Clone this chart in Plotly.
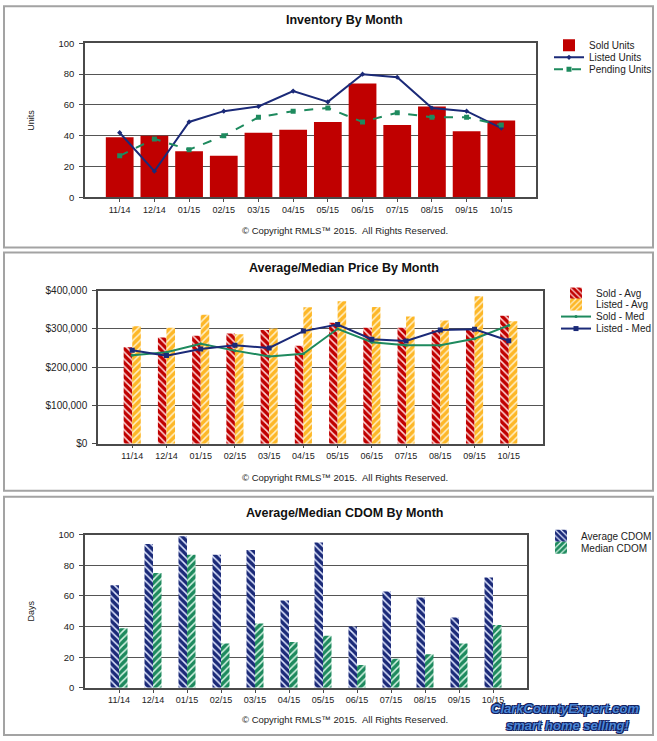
import plotly.graph_objects as go

W, H = 657, 741

months = ["11/14", "12/14", "01/15", "02/15", "03/15", "04/15",
          "05/15", "06/15", "07/15", "08/15", "09/15", "10/15"]

# Panel 1: Inventory By Month
sold_units = [39, 40, 30, 27, 42, 44, 49, 74, 47, 59, 43, 50]
listed_units = [42, 17, 49, 56, 59, 69, 62, 80, 78, 58, 56, 45]
pending_units = [27, 38, 31, 40, 52, 56, 58, 49, 55, 52, 52, 47]

# Panel 2: Average/Median Price By Month
sold_avg = [252000, 277000, 282000, 288000, 297000, 256000,
            316000, 303000, 303000, 296000, 298000, 334000]
listed_avg = [307000, 303000, 337000, 286000, 301000, 356000,
              372000, 357000, 332000, 322000, 385000, 320000]
sold_med = [231000, 239000, 261000, 243000, 228000, 235000,
            300000, 265000, 257000, 257000, 274000, 309000]
listed_med = [244000, 230000, 247000, 257000, 250000, 294000,
              311000, 273000, 268000, 297000, 299000, 269000]

# Panel 3: Average/Median CDOM By Month
avg_cdom = [67, 94, 99, 87, 90, 57, 95, 40, 63, 59, 46, 72]
med_cdom = [39, 75, 87, 29, 42, 30, 34, 15, 19, 22, 29, 41]

RED = "#C00000"
NAVY = "#1B2A78"
GREEN = "#1E8A5E"
GOLD = "#FDB727"
AXC = "#4a4a4a"
FONT = "Liberation Sans, Arial, sans-serif"

# observed vertical mapping of the viewer: rendered = 5.7 + 0.983 * planned
VOFF, VSCALE = 5.7, 0.983


def px(x):
    return x / W


def py(y):
    yp = (y - VOFF) / VSCALE
    return min(max(1 - yp / H, 0.0), 1.0)


fig = go.Figure()

# ---------- Panel 1 ----------
fig.add_trace(go.Bar(x=months, y=sold_units, name="Sold Units", marker_color=RED,
                     marker_line_width=0, width=0.8, offset=-0.4,
                     xaxis="x", yaxis="y", legend="legend"))
fig.add_trace(go.Scatter(x=months, y=listed_units, name="Listed Units", mode="lines+markers",
                         line=dict(color=NAVY, width=2), marker=dict(size=4, color=NAVY, symbol="diamond"),
                         xaxis="x", yaxis="y", legend="legend2"))
fig.add_trace(go.Scatter(x=months, y=pending_units, name="Pending Units", mode="lines+markers",
                         line=dict(color=GREEN, width=2, dash="dash"),
                         marker=dict(size=5, color=GREEN, symbol="square"),
                         xaxis="x", yaxis="y", legend="legend3"))

# ---------- Panel 2 ----------
fig.add_trace(go.Bar(x=months, y=sold_avg, name="Sold - Avg",
                     marker=dict(color=RED, line_width=0,
                                 pattern=dict(shape="\\", fgcolor="#ffd6d6", bgcolor=RED,
                                              size=5, solidity=0.3, fillmode="replace")),
                     width=0.25, offset=-0.25, xaxis="x2", yaxis="y2", legend="legend4"))
fig.add_trace(go.Bar(x=months, y=listed_avg, name="Listed - Avg",
                     marker=dict(color=GOLD, line_width=0,
                                 pattern=dict(shape="/", fgcolor="#fff0c8", bgcolor=GOLD,
                                              size=5, solidity=0.3, fillmode="replace")),
                     width=0.25, offset=0, xaxis="x2", yaxis="y2", legend="legend5"))
fig.add_trace(go.Scatter(x=months, y=sold_med, name="Sold - Med", mode="lines+markers",
                         line=dict(color=GREEN, width=2), marker=dict(size=3, color=GREEN),
                         xaxis="x2", yaxis="y2", legend="legend6"))
fig.add_trace(go.Scatter(x=months, y=listed_med, name="Listed - Med", mode="lines+markers",
                         line=dict(color=NAVY, width=2), marker=dict(size=5, color=NAVY, symbol="square"),
                         xaxis="x2", yaxis="y2", legend="legend7"))

# ---------- Panel 3 ----------
fig.add_trace(go.Bar(x=months, y=avg_cdom, name="Average CDOM",
                     marker=dict(color=NAVY, line_width=0,
                                 pattern=dict(shape="\\", fgcolor="#dfe6ff", bgcolor=NAVY,
                                              size=5, solidity=0.3, fillmode="replace")),
                     width=0.25, offset=-0.25, xaxis="x3", yaxis="y3", legend="legend8"))
fig.add_trace(go.Bar(x=months, y=med_cdom, name="Median CDOM",
                     marker=dict(color=GREEN, line_width=0,
                                 pattern=dict(shape="/", fgcolor="#d8f5e6", bgcolor=GREEN,
                                              size=5, solidity=0.3, fillmode="replace")),
                     width=0.25, offset=0, xaxis="x3", yaxis="y3", legend="legend9"))

xcommon = dict(type="category", range=[-1, 12], showline=True, linecolor=AXC, linewidth=1.5,
               mirror=True, ticks="outside", ticklen=3, tickcolor=AXC, showgrid=False,
               tickfont=dict(size=9, color="#222", family=FONT), fixedrange=True)
ycommon = dict(showline=True, linecolor=AXC, linewidth=1.5, mirror=True, ticks="outside",
               ticklen=4, tickcolor=AXC, showgrid=True, gridcolor="#555555", gridwidth=1,
               zeroline=False, tickfont=dict(size=9.5, color="#222", family=FONT),
               ticklabelstandoff=3, fixedrange=True)

fig.update_layout(
    xaxis=dict(xcommon, domain=[px(85), px(536)], anchor="y"),
    yaxis=dict(ycommon, domain=[py(197), py(43)], range=[0, 100], dtick=20, anchor="x",
               title=dict(text="Units", font=dict(size=9, family=FONT, color="#222"), standoff=22)),
    xaxis2=dict(xcommon, domain=[px(98), px(543)], anchor="y2"),
    yaxis2=dict(ycommon, domain=[py(443), py(290)], range=[0, 400000], dtick=100000,
                tickprefix="$", tickformat=",", anchor="x2",
                tickfont=dict(size=10, color="#222", family=FONT)),
    xaxis3=dict(xcommon, domain=[px(85), px(527)], anchor="y3"),
    yaxis3=dict(ycommon, domain=[py(687), py(534)], range=[0, 100], dtick=20, anchor="x3",
                title=dict(text="Days", font=dict(size=9, family=FONT, color="#222"), standoff=22)),
)

# legends: one per entry, placed to mimic the original layout
leg_specs = [
    ("legend", 549, 45), ("legend2", 549, 57), ("legend3", 549, 69),
    ("legend4", 556, 293), ("legend5", 556, 304), ("legend6", 556, 316), ("legend7", 556, 328),
    ("legend8", 541, 535), ("legend9", 541, 547),
]
for name, lx, ly in leg_specs:
    fig.update_layout({name: dict(x=px(lx), y=py(ly), xanchor="left", yanchor="middle",
                                  bgcolor="rgba(0,0,0,0)", borderwidth=0,
                                  font=dict(size=10, family=FONT, color="#222"),
                                  itemclick=False, itemdoubleclick=False)})

# panel frames
shapes = []
for (x0, y0, x1, y1) in [(4, 6, 653, 247), (4, 252, 653, 490), (4, 496, 653, 735)]:
    shapes.append(dict(type="rect", xref="paper", yref="paper",
                       x0=px(x0), x1=px(x1), y0=py(y1), y1=py(y0),
                       line=dict(color="#a3a3a3", width=2), layer="below"))
fig.update_layout(shapes=shapes)

anns = []
titles = [("Inventory By Month", 20), ("Average/Median Price By Month", 267),
          ("Average/Median CDOM By Month", 512)]
for t, ty in titles:
    anns.append(dict(text="<b>" + t + "</b>", x=px(344), y=py(ty), xref="paper", yref="paper",
                     showarrow=False, xanchor="center", yanchor="middle",
                     font=dict(size=12.5, family=FONT, color="#111")))
for cy in [230, 477, 719]:
    anns.append(dict(text="© Copyright RMLS™ 2015.  All Rights Reserved.", x=px(345), y=py(cy),
                     xref="paper", yref="paper", showarrow=False, xanchor="center", yanchor="middle",
                     font=dict(size=9.5, family=FONT, color="#222")))

outline = "#102060"
shadow = ("-1px -1px 0 %s, 1px -1px 0 %s, -1px 1px 0 %s, 1px 1px 0 %s, 0 0 3px #ffffff"
          % (outline, outline, outline, outline))
anns.append(dict(text="ClarkCountyExpert.com", x=px(565), y=py(708), xref="paper", yref="paper",
                 showarrow=False, xanchor="center", yanchor="middle",
                 font=dict(size=13, family=FONT, color="#4a86d6", weight="bold", style="italic",
                           shadow=shadow)))
anns.append(dict(text="smart home selling!", x=px(567), y=py(725), xref="paper", yref="paper",
                 showarrow=False, xanchor="center", yanchor="middle",
                 font=dict(size=13, family=FONT, color="#4a86d6", weight="bold", style="italic",
                           shadow=shadow)))
fig.update_layout(annotations=anns)

fig.update_layout(width=W, height=H, margin=dict(l=0, r=0, t=0, b=0),
                  paper_bgcolor="white", plot_bgcolor="white", showlegend=True,
                  font=dict(family=FONT))

post = ("document.body.style.margin='0';document.body.style.padding='0';"
        "var gd=document.getElementById('{plot_id}');"
        "gd.style.position='absolute';gd.style.top='0px';gd.style.left='0px';")
fig.write_html("out.html", post_script=post, config={"displayModeBar": False})
